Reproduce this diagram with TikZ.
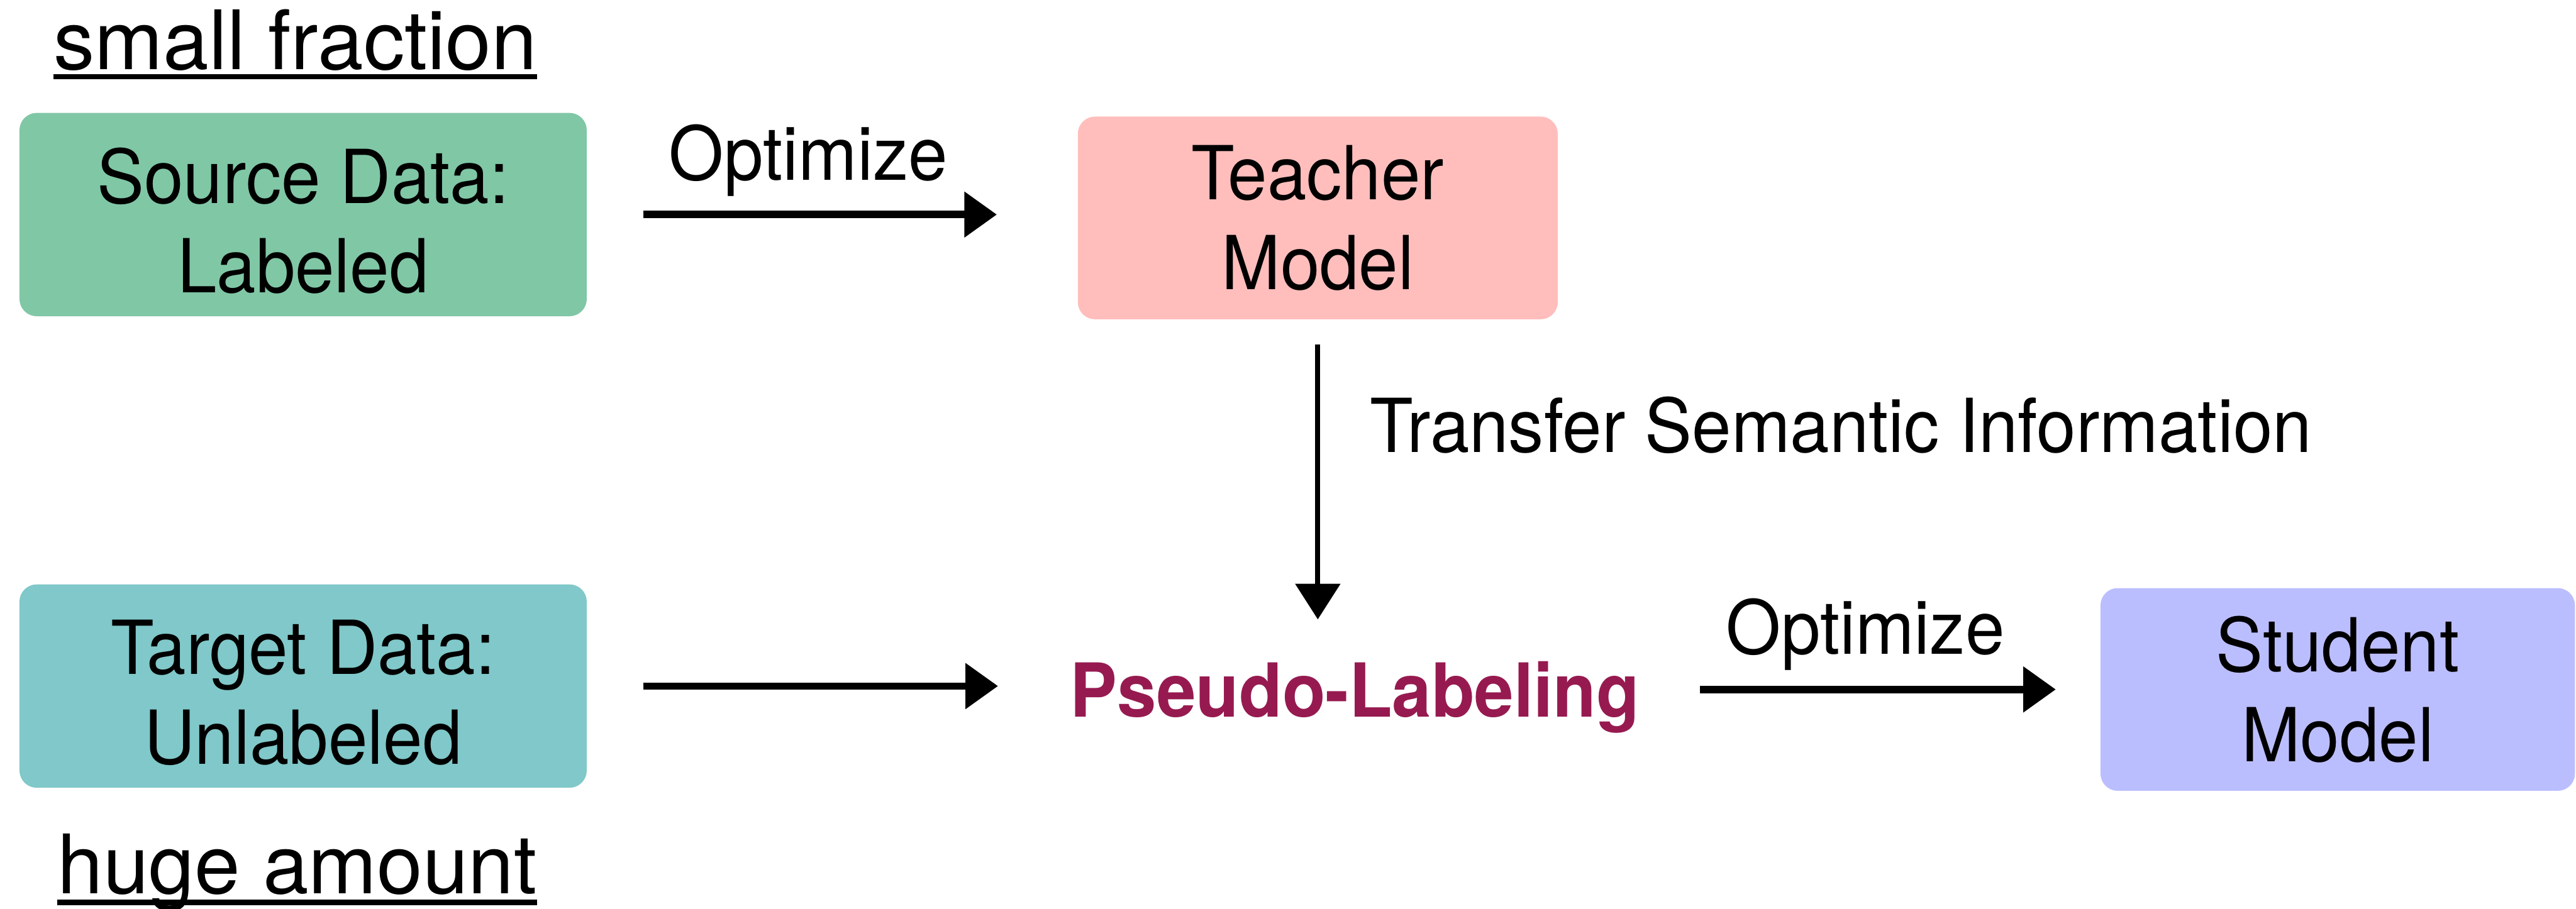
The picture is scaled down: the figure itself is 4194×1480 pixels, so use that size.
\documentclass[tikz,border=0pt]{standalone}
\usepackage{fontspec}
\setmainfont{TeX Gyre Heros}[FakeStretch=0.948]
\newfontfamily\headfont{TeX Gyre Heros}
\usetikzlibrary{arrows.meta}

\definecolor{srcfill}{HTML}{80C7A6}
\definecolor{tgtfill}{HTML}{80C8C9}
\definecolor{teachfill}{HTML}{FFBEBC}
\definecolor{studfill}{HTML}{BBBEFE}
\definecolor{pseudocol}{HTML}{961A50}

\tikzset{
  box/.style={rounded corners=0.28cm, inner sep=0pt},
  boxtext/.style={inner sep=0pt, align=center,
    font=\fontsize{34.5}{41.5}\selectfont},
  plain/.style={inner sep=0pt, font=\fontsize{34.5}{41.5}\selectfont},
  heading/.style={inner sep=0pt, font=\headfont\fontsize{38}{46}\selectfont},
  flow/.style={line width=0.12cm, -{Triangle[length=0.53cm,width=0.72cm]}},
  thinflow/.style={line width=0.08cm, -{Triangle[length=0.58cm,width=0.72cm]}},
  rule/.style={line width=0.09cm}
}

\begin{document}
\begin{tikzpicture}[x=0.01cm, y=-0.01cm]
\useasboundingbox (0,0) rectangle (4194,1480);

% boxes
\node[box, fill=srcfill, minimum width=9.23cm, minimum height=3.31cm]
  (source) at (493.5,349.5) {};
\node[box, fill=teachfill, minimum width=7.81cm, minimum height=3.30cm]
  (teacher) at (2145.5,355) {};
\node[box, fill=tgtfill, minimum width=9.23cm, minimum height=3.31cm]
  (target) at (493.5,1117.5) {};
\node[box, fill=studfill, minimum width=7.72cm, minimum height=3.30cm]
  (student) at (3806,1123) {};

% box captions
\node[boxtext] (sourcetext) at ([yshift=-0.10cm]source.center) {Source Data:\\Labeled};
\node[boxtext] (teachertext) at (teacher.center) {Teacher\\Model};
\node[boxtext] (targettext) at ([yshift=-0.11cm]target.center) {Target Data:\\Unlabeled};
\node[boxtext] (studenttext) at (student.center) {Student\\Model};

% central step
\node[plain, anchor=base, text=pseudocol, font=\bfseries\fontsize{34.5}{41.5}\selectfont]
  (pseudo) at (2206,1168) {Pseudo-Labeling};

% headings
\node[heading, anchor=base] (small) at (481,113) {small fraction};
\draw[rule] ([yshift=-0.12cm]small.base west) -- ([yshift=-0.12cm]small.base east);
\node[heading, anchor=base] (huge) at (484,1456) {huge amount};
\draw[rule] ([yshift=-0.14cm]huge.base west) -- ([yshift=-0.14cm]huge.base east);

% labels
\node[plain, anchor=base] (opt1) at (1316,293) {Optimize};
\node[plain, anchor=base] (opt2) at (3037,1065) {Optimize};
\node[plain, anchor=base west] (transfer) at (2230,737) {Transfer Semantic Information};

% connectors
\draw[flow, shorten <=0.91cm, shorten >=1.31cm]
  (source.east) -- (source.east -| teacher.west);
\draw[thinflow, shorten <=0.40cm, shorten >=0.68cm]
  (teacher.south) -- (teacher.south |- pseudo.north);
\draw[flow, shorten <=0.91cm, shorten >=1.17cm]
  (target.east) -- (target.east -| pseudo.west);
\draw[flow, shorten <=0.98cm, shorten >=0.72cm]
  (student.west -| pseudo.east) -- (student.west);
\end{tikzpicture}
\end{document}
